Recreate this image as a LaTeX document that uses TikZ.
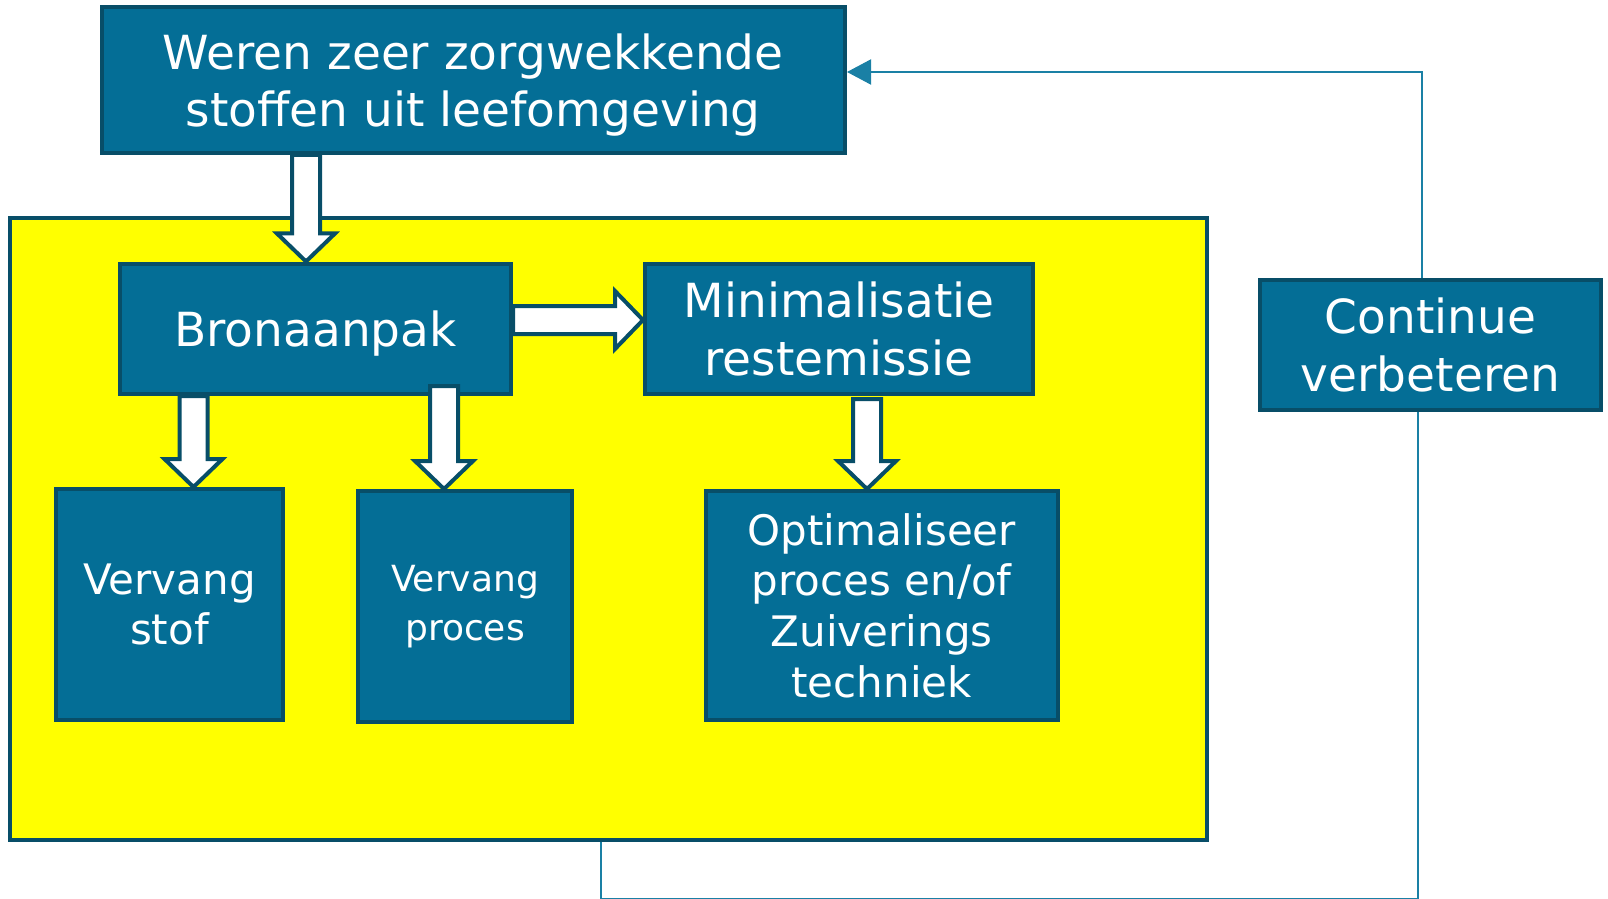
\documentclass[tikz,border=0pt]{standalone}
\usepackage{fontspec}
\setmainfont{DejaVu Sans}
\usetikzlibrary{calc,arrows.meta}
\definecolor{boxfill}{RGB}{4,110,150}
\definecolor{boxline}{RGB}{8,78,104}
\definecolor{fbline}{RGB}{26,128,165}
\definecolor{zonefill}{RGB}{255,255,0}
\tikzset{
  box/.style={draw=boxline, fill=boxfill, line width=2pt, text=white, align=center, inner sep=0pt},
  big/.style={font=\fontsize{23.5}{28.75}\selectfont},
  mid/.style={font=\fontsize{21}{25.3}\selectfont},
  sml/.style={font=\fontsize{18}{24.5}\selectfont},
  blk/.style={draw=boxline, fill=white, line width=2pt, line join=miter},
  fb/.style={draw=fbline, line width=1pt},
}
\newcommand\blkdown[3]{\draw[blk] let \p1=(#1), \p2=(#2) in
  (\x1-7pt,\y1+#3) -- (\x1-7pt,\y2+14pt) -- (\x1-14.5pt,\y2+14pt) -- (\x1,\y2)
  -- (\x1+14.5pt,\y2+14pt) -- (\x1+7pt,\y2+14pt) -- (\x1+7pt,\y1+#3) -- cycle;}
\newcommand\blkright[2]{\draw[blk] let \p1=(#1), \p2=(#2) in
  (\x1,\y1+7pt) -- (\x2-14pt,\y1+7pt) -- (\x2-14pt,\y1+14.5pt) -- (\x2,\y1)
  -- (\x2-14pt,\y1-14.5pt) -- (\x2-14pt,\y1-7pt) -- (\x1,\y1-7pt) -- cycle;}
\begin{document}
\begin{tikzpicture}[x=0.5pt,y=-0.5pt]
\useasboundingbox (0,0) rectangle (1608,899);
% yellow zone
\node[draw=boxline, fill=zonefill, line width=2pt, minimum width=598.35pt, minimum height=311pt, inner sep=0pt] (zone) at (608.7,529) {};
% boxes
\node[box, big, minimum width=371.75pt, minimum height=73pt] (top) at (473.25,80) {\rule{0pt}{23pt}Weren zeer zorgwekkende\\stoffen uit leefomgeving};
\node[box, big, minimum width=195.5pt, minimum height=65.25pt] (bron) at (315.5,328.75) {\rule{0pt}{23pt}Bronaanpak};
\node[box, big, minimum width=194pt, minimum height=65.25pt] (mini) at (839,328.75) {Minimalisatie\\restemissie};
\node[box, mid, minimum width=113.5pt, minimum height=115.5pt] (stof) at (169.5,604.5) {Vervang\\stof};
\node[box, sml, minimum width=107pt, minimum height=115.5pt] (proc) at (465,606.5) {Vervang\\proces};
\node[box, mid, minimum width=176.25pt, minimum height=114.5pt] (opt) at (881.75,605.5) {Optimaliseer\\proces en/of\\Zuiverings\\techniek};
\node[box, big, minimum width=170.5pt, minimum height=65pt] (cont) at (1430.5,345) {Continue\\verbeteren};
% block arrows
\blkdown{306,0 |- top.south}{306,0 |- bron.north}{0pt}
\blkdown{193.5,0 |- bron.south}{193.5,0 |- stof.north}{0pt}
\blkdown{444,0 |- bron.south}{444,0 |- proc.north}{5pt}
\blkdown{867,0 |- mini.south}{867,0 |- opt.north}{-1.5pt}
\blkright{bron.east |- 0,320}{mini.west |- 0,320}
% feedback loop
\draw[fb, -{Triangle[length=12pt,width=12.5pt]}] ([xshift=-4.25pt]cont.north) |- ([yshift=4pt]top.east);
\draw[fb] ([xshift=-6.5pt]cont.south) -- ++(0,487) -| ([xshift=-4pt]zone.south);
\end{tikzpicture}
\end{document}
